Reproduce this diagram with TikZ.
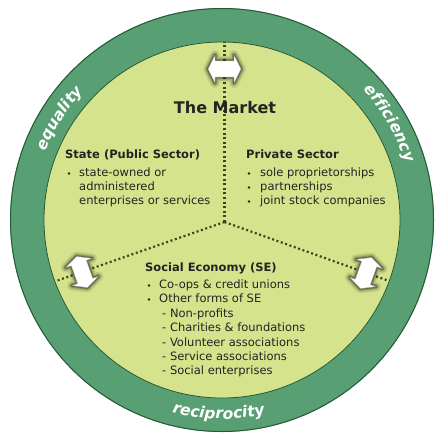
\documentclass[tikz,border=0pt]{standalone}
\usepackage{fontspec}
\setmainfont{DejaVu Sans}
\usetikzlibrary{decorations.text}
\definecolor{ringgreen}{RGB}{88,160,115}
\definecolor{ringline}{RGB}{40,90,55}
\definecolor{innerfill}{RGB}{213,227,140}
\definecolor{dotcol}{RGB}{60,70,30}
\definecolor{txt}{RGB}{35,35,35}
\begin{document}
\begin{tikzpicture}[x=1pt,y=1pt,
  dotline/.style={dotcol, line width=2.2pt, dash pattern=on 2pt off 2.6pt},
  ttl/.style={anchor=base west, inner sep=0, font=\bfseries\fontsize{11.5}{14}\selectfont, text=txt},
  itm/.style={anchor=base west, inner sep=0, font=\fontsize{11.5}{14}\selectfont, text=txt},
  bul/.style={circle, fill=txt, inner sep=0, minimum size=2.8pt},
  ringtext/.style={decorate, decoration={text along path, text align=center, text color=white, text={|\bfseries\itshape\fontsize{15.5}{15.5}\selectfont|#1}}},
  dblarrow/.pic={
    \foreach \w/\o in {10/0.08,7/0.12,4.5/0.18,2.5/0.3}{
      \draw[line width=\w pt, black, opacity=\o, line join=round]
        (-16.5,0) -- (-9.5,14) -- (-9.5,8) -- (9.5,8) -- (9.5,14) -- (16.5,0)
        -- (9.5,-14) -- (9.5,-8) -- (-9.5,-8) -- (-9.5,-14) -- cycle;
    }
    \draw[fill=white, draw=gray!70, line width=0.4pt, line join=round]
        (-16.5,0) -- (-9.5,14) -- (-9.5,8) -- (9.5,8) -- (9.5,14) -- (16.5,0)
        -- (9.5,-14) -- (9.5,-8) -- (-9.5,-8) -- (-9.5,-14) -- cycle;
  }
]
\useasboundingbox (0,0) rectangle (435,432);
\coordinate (c) at (222,212);
% rings
\fill[ringgreen] (c) circle[radius=212];
\draw[ringline, line width=1pt] (c) circle[radius=211.5];
\fill[innerfill] (c) circle[radius=178];
\draw[ringline, line width=0.8pt] (c) circle[radius=178];

% ring labels
\path[ringtext=equality] (c) ++(175:189) arc[start angle=175, end angle=121, radius=189];
\path[ringtext=efficiency] (c) ++(58:192) arc[start angle=58, end angle=2, radius=192];
\path[ringtext=reciprocity] (c) ++(240:199) arc[start angle=240, end angle=298, radius=199];

% dividing lines
\coordinate (jn) at (224.5,210);
\coordinate (ta) at (224.5,363);
\coordinate (te) at (224.5,390);
\coordinate (la) at (82,160);
\coordinate (le) at (56,151);
\coordinate (ra) at (366,159);
\coordinate (re) at (389,151);
\draw[dotline] (jn) -- (te);
\draw[dotline] (jn) -- (le);
\draw[dotline] (jn) -- (re);

% arrows
\pic at (ta) {dblarrow};
\pic[rotate=109.4] at (la) {dblarrow};
\pic[rotate=70.25] at (ra) {dblarrow};

% The Market
\node[anchor=base, inner sep=0, font=\bfseries\fontsize{16}{16}\selectfont, text=txt] (market) at (225,319) {The Market};

% State
\node[ttl] (st) at (65,274) {State (Public Sector)};
\node[bul] (stb1) at (69,258.5) {};
\node[itm] (st1) at (79,256) {state-owned or};
\node[itm] (st2) at (79,242) {administered};
\node[itm] (st3) at (79,228) {enterprises or services};

% Private
\node[ttl] (pr) at (246,274) {Private Sector};
\node[bul] (prb1) at (249,258.5) {};
\node[bul] (prb2) at (249,244.5) {};
\node[bul] (prb3) at (249,230.5) {};
\node[itm] (pr1) at (260,256) {sole proprietorships};
\node[itm] (pr2) at (260,242) {partnerships};
\node[itm] (pr3) at (260,228) {joint stock companies};

% Social Economy
\node[ttl] (se) at (145,161) {Social Economy (SE)};
\node[bul] (seb1) at (149,146.5) {};
\node[bul] (seb2) at (149,132.5) {};
\node[itm] (se1) at (159,144) {Co-ops \& credit unions};
\node[itm] (se2) at (159,130) {Other forms of SE};
\node[itm] (se3) at (162,115) {- Non-profits};
\node[itm] (se4) at (162,101) {- Charities \& foundations};
\node[itm] (se5) at (162,86) {- Volunteer associations};
\node[itm] (se6) at (162,72) {- Service associations};
\node[itm] (se7) at (162,58) {- Social enterprises};
\end{tikzpicture}
\end{document}
